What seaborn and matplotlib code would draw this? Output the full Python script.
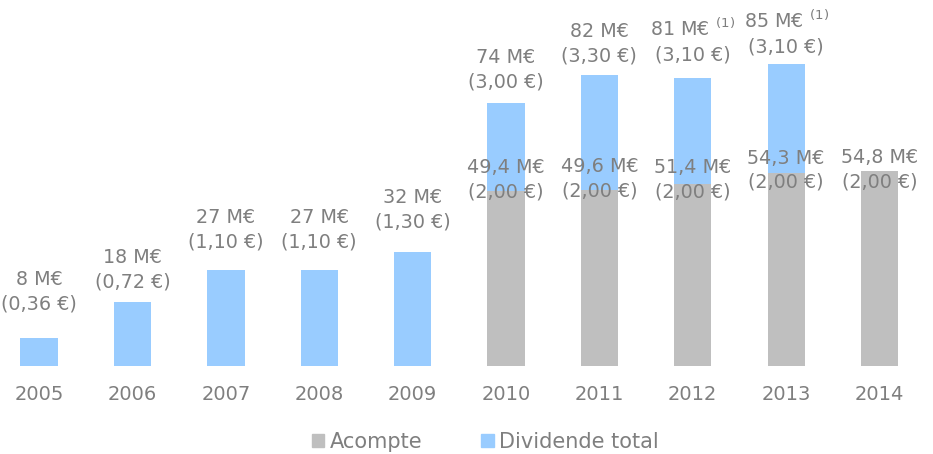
import numpy as np
import pandas as pd
import matplotlib
matplotlib.use("Agg")
import matplotlib.pyplot as plt
import seaborn as sns
from matplotlib.patches import Patch

# ── Data ──
years = ["2005", "2006", "2007", "2008", "2009", "2010", "2011", "2012", "2013", "2014"]
total_meur = [8, 18, 27, 27, 32, 74, 82, 81, 85, np.nan]
total_per_share = ["0,36", "0,72", "1,10", "1,10", "1,30", "3,00", "3,30", "3,10", "3,10", None]
total_label_amount = ["8", "18", "27", "27", "32", "74", "82", "81", "85", None]
total_note = ["", "", "", "", "", "", "", "(1)", "(1)", ""]
acompte_meur = [np.nan] * 5 + [49.4, 49.6, 51.4, 54.3, 54.8]
acompte_label_amount = [None] * 5 + ["49,4", "49,6", "51,4", "54,3", "54,8"]
acompte_per_share = [None] * 5 + ["2,00"] * 5

# ── Layout: label lift above bar top (pixels, hand placed like the original) ──
total_lift_px = [46, 32, 40, 40, 43, 34, 31, 37, 31, 0]
acompte_lift_px = [0, 0, 0, 0, 0, 11, 11, 4, 3, 2]

BLUE = "#99ccff"
GREY = "#bfbfbf"
TEXT = "#7f7f7f"
FS = 13.8

df = pd.DataFrame({"year": years, "total": total_meur, "acompte": acompte_meur})

sns.set_style("white")
plt.rcParams["font.family"] = ["DejaVu Sans"]

fig = plt.figure(figsize=(9.33, 4.54), dpi=100)
ax = fig.add_axes([0.0, 88 / 454, 1.0, 366 / 454])

# ── Bars: total behind, acompte in front ──
sns.barplot(data=df, x="year", y="total", order=years, color=BLUE,
            width=0.4, saturation=1, ax=ax, errorbar=None, linewidth=0)
sns.barplot(data=df, x="year", y="acompte", order=years, color=GREY,
            width=0.4, saturation=1, ax=ax, errorbar=None, linewidth=0)

ax.set_ylim(0, 366 / 3.55)
ax.set_xlim(-0.418, 9.572)
ax.set_xlabel("")
ax.set_ylabel("")
ax.set_yticks([])
sns.despine(ax=ax, left=True, top=True, right=True, bottom=True)
ax.tick_params(axis="x", length=0, pad=14, labelsize=14, labelcolor=TEXT)

px = 72 / 100  # pixels -> points

# ── Labels ──
for i, yr in enumerate(years):
    if total_label_amount[i] is not None:
        note = r" $^{\mathregular{" + total_note[i] + "}}$" if total_note[i] else ""
        txt = f"{total_label_amount[i]} M€{note}\n({total_per_share[i]} €)"
        ax.annotate(txt, xy=(i, total_meur[i]), xytext=(0, total_lift_px[i] * px),
                    textcoords="offset points", ha="center", va="center",
                    fontsize=FS, color=TEXT, linespacing=1.36)
    if acompte_label_amount[i] is not None:
        txt = f"{acompte_label_amount[i]} M€\n({acompte_per_share[i]} €)"
        ax.annotate(txt, xy=(i, acompte_meur[i]), xytext=(0, acompte_lift_px[i] * px),
                    textcoords="offset points", ha="center", va="center",
                    fontsize=FS, color=TEXT, linespacing=1.36)

# ── Legend ──
handles = [Patch(color=GREY, label="Acompte"), Patch(color=BLUE, label="Dividende total")]
fig.legend(handles=handles, loc="center", bbox_to_anchor=(485 / 933, 1 - 442 / 454), ncol=2,
           frameon=False, fontsize=15, labelcolor=TEXT, handlelength=0.62,
           handleheight=0.62, handletextpad=0.25, columnspacing=2.8)

fig.savefig("out.png", dpi=100)
